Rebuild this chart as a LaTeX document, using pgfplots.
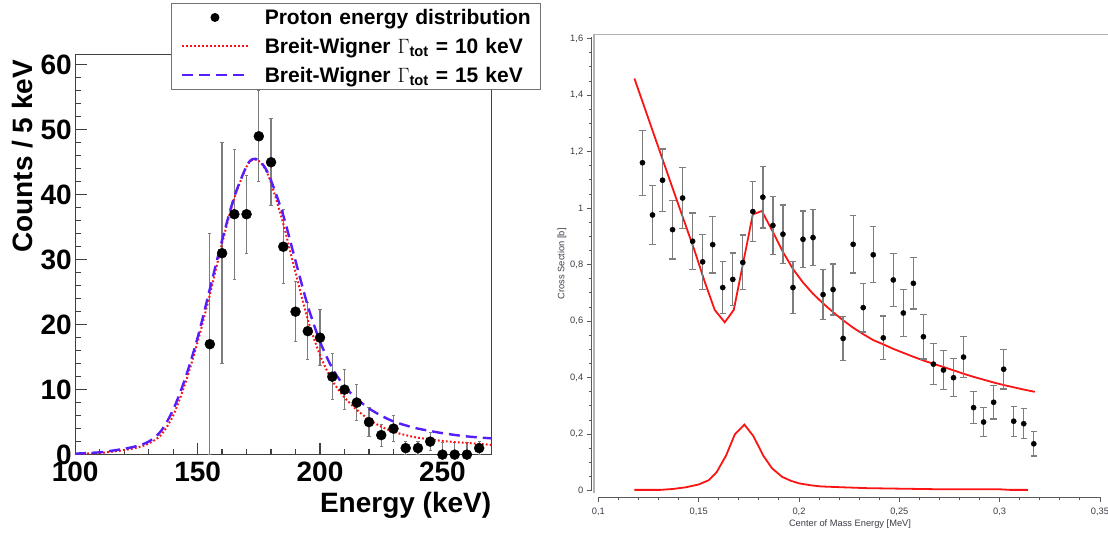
\documentclass[border=0pt]{standalone}
\usepackage{fontspec}
\setmainfont{Liberation Sans}
\usepackage{pgfplots}
\usepackage{pgfplotstable}
\pgfplotsset{compat=1.18}

\definecolor{bwblue}{RGB}{85,30,250}
\definecolor{ebgray}{RGB}{125,125,125}
\definecolor{txtgray}{RGB}{60,60,72}
\definecolor{fitred}{RGB}{250,20,20}

% left panel: proton energy spectrum
\pgfplotstableread{
x y ep em
155 17 17 17
160 31 17 17
165 37 10 10
170 37 6 6
175 49 7 7
180 45 6.7 6.7
185 32 5.7 5.7
190 22 4.6 4.6
195 19 4.4 4.4
200 18 4.3 4.3
205 12 3.5 3.5
210 10 3.1 3.1
215 8 2.8 2.8
220 5 2.2 2.2
225 3 1.7 1.7
230 4 2.0 2.0
235 1 1.0 1.0
240 1 1.0 1.0
245 2 1.4 1.4
250 0 1.8 0
255 0 1.8 0
260 0 1.8 0
265 1 1.0 1.0
}\protons

\pgfplotstableread{
x y
100 0.1
110 0.25
115 0.45
120 0.7
125 1.05
130 1.7
135 3.0
140 6.0
145 11.0
150 17.3
155 24.6
160 32.5
165 39.5
170 44.3
172.5 45.4
175 45.2
177.5 44.0
180 41.8
185 35.5
190 28.0
195 20.8
200 15.3
205 11.4
210 8.8
215 6.9
220 5.4
225 4.3
230 3.5
235 3.0
240 2.6
250 2.1
260 1.8
270 1.5
}\bwten

\pgfplotstableread{
x y
100 0.15
110 0.35
115 0.6
120 0.9
125 1.3
130 2.0
135 3.6
140 6.9
145 11.8
150 18.0
155 25.5
160 33.0
165 39.7
170 44.4
172.5 45.5
175 45.3
177.5 44.2
180 42.2
185 36.8
190 29.8
195 22.9
200 17.4
205 13.3
210 10.5
215 8.6
220 7.1
225 6.0
230 5.1
235 4.5
240 4.0
250 3.3
260 2.8
270 2.5
}\bwfifteen

% right panel: cross section
\pgfplotstableread{
x y e
0.122 1.161 0.115
0.127 0.976 0.105
0.132 1.099 0.111
0.137 0.924 0.104
0.142 1.036 0.108
0.147 0.883 0.100
0.152 0.810 0.097
0.157 0.871 0.100
0.162 0.719 0.092
0.167 0.748 0.093
0.172 0.808 0.097
0.177 0.988 0.106
0.182 1.039 0.109
0.187 0.939 0.103
0.192 0.908 0.103
0.197 0.719 0.092
0.202 0.890 0.100
0.207 0.896 0.100
0.212 0.694 0.089
0.217 0.712 0.090
0.222 0.539 0.078
0.227 0.872 0.101
0.232 0.648 0.086
0.237 0.835 0.099
0.242 0.541 0.077
0.247 0.746 0.093
0.252 0.629 0.084
0.257 0.734 0.091
0.262 0.545 0.079
0.267 0.448 0.073
0.272 0.427 0.070
0.277 0.400 0.067
0.282 0.473 0.073
0.287 0.294 0.057
0.292 0.243 0.052
0.297 0.313 0.059
0.302 0.430 0.070
0.307 0.246 0.053
0.312 0.237 0.053
0.317 0.166 0.043
}\xsdata

\pgfplotstableread{
x y
0.118 1.459
0.123 1.357
0.128 1.255
0.133 1.153
0.138 1.051
0.143 0.950
0.148 0.849
0.153 0.740
0.158 0.640
0.163 0.596
0.1675 0.640
0.177 0.978
0.1815 0.990
0.187 0.916
0.192 0.845
0.197 0.785
0.202 0.737
0.207 0.697
0.212 0.663
0.217 0.632
0.222 0.603
0.227 0.577
0.232 0.554
0.237 0.533
0.242 0.518
0.247 0.502
0.252 0.488
0.257 0.474
0.262 0.461
0.267 0.449
0.272 0.438
0.277 0.426
0.282 0.414
0.287 0.403
0.292 0.393
0.297 0.383
0.302 0.374
0.307 0.366
0.312 0.358
0.3175 0.350
}\xsfit

\pgfplotstableread{
x y
0.118 0.003
0.125 0.003
0.131 0.003
0.137 0.006
0.1436 0.012
0.150 0.022
0.155 0.037
0.159 0.066
0.1637 0.125
0.168 0.199
0.1728 0.234
0.1773 0.193
0.1822 0.124
0.1866 0.079
0.1916 0.049
0.196 0.035
0.200 0.026
0.206 0.019
0.211 0.015
0.222 0.012
0.234 0.009
0.252 0.007
0.271 0.005
0.300 0.005
0.305 0.003
0.314 0.003
}\xsres

\begin{document}
\begin{tikzpicture}
\path[use as bounding box] (0pt,0pt) rectangle (1108pt,-534pt);

\begin{axis}[
    at={(75.2pt,-454.6pt)}, anchor=south west,
    scale only axis, width=416.2pt, height=400pt,
    xmin=100, xmax=270, ymin=0, ymax=61.57,
    axis line style={black!75, line width=1.3pt},
    tick align=inside, xtick pos=bottom, ytick pos=left,
    xtick={100,150,200,250}, ytick={0,10,20,30,40,50,60},
    minor x tick num=4, minor y tick num=4,
    major tick length=12pt, minor tick length=6pt,
    tick style={black!75, line width=1.2pt},
    /pgf/number format/assume math mode=true,
    ticklabel style={font=\fontsize{28}{28}\selectfont\bfseries},
    xticklabel style={yshift=-4pt},
    xlabel={Energy (keV)},
    xlabel style={at={(axis description cs:1,-0.1435)}, anchor=base east,
        inner sep=0pt, font=\fontsize{28}{28}\selectfont\bfseries},
    ylabel={Counts / 5 keV},
    ylabel style={at={(axis description cs:-0.1269,0.9873)}, anchor=east,
        inner sep=0pt, font=\fontsize{28}{28}\selectfont\bfseries},
    legend style={at={(axis description cs:0.2295,1.1298)}, anchor=north west,
        draw=black!55, line width=0.9pt, fill=white, inner xsep=0pt, inner ysep=0pt,
        row sep=0pt, column sep=0pt,
        font=\fontsize{21}{21}\selectfont\bfseries,
        nodes={inner sep=0pt, text height=21.85pt, text depth=6.85pt, text width=276pt}},
    legend cell align=left,
]
\addplot[only marks, mark=*, mark size=5pt, black, forget plot,
    error bars/.cd, y dir=both, y explicit,
    error bar style={ebgray, line width=1.2pt},
    error mark options={ebgray, mark size=1.6pt, line width=1pt, rotate=90}]
    table[x=x, y=y, y error plus=ep, y error minus=em] {\protons};
\addplot[fitred, smooth, line width=2pt, dash pattern=on 1.8pt off 2.2pt,
    forget plot] table[x=x, y=y] {\bwten};
\addplot[bwblue, smooth, line width=2.4pt, dash pattern=on 11pt off 6pt,
    forget plot] table[x=x, y=y] {\bwfifteen};

\addlegendimage{legend image code/.code={
    \path[draw=none, fill=none] (-11pt,0pt) -- (82.6pt,0pt);
    \fill[black, draw=none] (32.8pt,0pt) circle (4.5pt);}}
\addlegendentry{Proton energy distribution}
\addlegendimage{legend image code/.code={
    \path[draw=none, fill=none] (-11pt,0pt) -- (82.6pt,0pt);
    \draw[fitred, solid, line width=2pt, dash pattern=on 1.8pt off 2.2pt] (0pt,0pt) -- (65.6pt,0pt);}}
\addlegendentry{Breit-Wigner $\Gamma$\textsubscript{tot} = 10 keV}
\addlegendimage{legend image code/.code={
    \path[draw=none, fill=none] (-11pt,0pt) -- (82.6pt,0pt);
    \draw[bwblue, solid, line width=2.4pt, dash pattern=on 11pt off 6pt] (0pt,0pt) -- (65.6pt,0pt);}}
\addlegendentry{Breit-Wigner $\Gamma$\textsubscript{tot} = 15 keV}
\end{axis}

\begin{axis}[
    at={(598.3pt,-490.7pt)}, anchor=south west,
    scale only axis, width=501.7pt, height=454pt,
    xmin=0.1, xmax=0.35, ymin=0, ymax=1.607,
    axis lines=left, axis line style={black!65, line width=1pt, -},
    axis x line shift=6.6pt, axis y line shift=6.6pt,
    tick align=outside,
    xtick={0.1,0.15,0.2,0.25,0.3,0.35},
    ytick={0,0.2,0.4,0.6,0.8,1,1.2,1.4,1.6},
    minor x tick num=4, minor y tick num=3,
    major tick length=5pt, minor tick length=3pt,
    tick style={black!65, line width=0.9pt},
    /pgf/number format/.cd, use comma, fixed, precision=2, assume math mode=true,
    /pgfplots/.cd,
    ticklabel style={font=\fontsize{9.3}{10}\selectfont, text=txtgray},
    xticklabel style={yshift=-2pt},
    xlabel={Center of Mass Energy [MeV]},
    xlabel style={at={(axis description cs:0.5017,-0.0778)}, anchor=base,
        inner sep=0pt, font=\fontsize{9.3}{10}\selectfont, text=txtgray},
    ylabel={Cross Section [b]},
    ylabel style={at={(axis description cs:-0.0724,0.5)}, anchor=center,
        inner sep=0pt, font=\fontsize{9.3}{10}\selectfont, text=txtgray},
]
\addplot[fitred, line width=1.8pt] table[x=x, y=y] {\xsfit};
\addplot[fitred, line width=1.8pt] table[x=x, y=y] {\xsres};
\addplot[only marks, mark=*, mark size=2.6pt, black,
    error bars/.cd, y dir=both, y explicit,
    error bar style={ebgray, line width=1.3pt},
    error mark options={ebgray, mark size=3.2pt, line width=1.3pt, rotate=90}]
    table[x=x, y=y, y error=e] {\xsdata};
\end{axis}

\draw[black!30, line width=1.2pt] (594pt,-493pt) -- (594pt,-34.3pt) -- (1108pt,-34.3pt);
\end{tikzpicture}
\end{document}
